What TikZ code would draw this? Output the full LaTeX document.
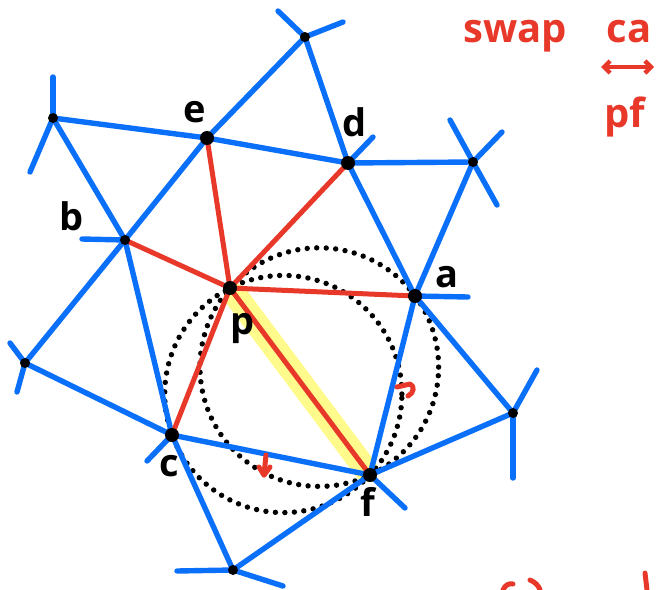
\documentclass[tikz,border=0pt]{standalone}
\usepackage{fontspec}
\setmainfont{Open Sans}
\usetikzlibrary{arrows.meta}
\definecolor{eblue}{RGB}{10,112,250}
\definecolor{ered}{RGB}{232,56,42}
\definecolor{ehl}{RGB}{255,250,140}
\tikzset{
  vtx/.style={circle,fill=black,inner sep=0pt,minimum size=14pt},
  vsm/.style={circle,fill=black,inner sep=0pt,minimum size=10pt},
  edge/.style={eblue,line width=5.4pt,line cap=round},
  flip/.style={ered,line width=5pt,line cap=round},
  dotcirc/.style={black,line width=5.4pt,line cap=round,dash pattern=on 0pt off 9.5pt},
  lbl/.style={font=\fontsize{38}{40}\selectfont\bfseries,anchor=base,inner sep=0pt},
  note/.style={font=\fontsize{40}{42}\selectfont\bfseries,anchor=base,inner sep=0pt,text=ered},
  redmark/.style={ered,line width=5pt,line cap=round,line join=round}
}
\begin{document}
\begin{tikzpicture}[x=1pt,y=-1pt]
\useasboundingbox (0,0) rectangle (669,589);
% vertices
\coordinate (p) at (230,288);
\coordinate (a) at (415,296);
\coordinate (b) at (125,240);
\coordinate (c) at (172,435);
\coordinate (d) at (348,163);
\coordinate (e) at (207,138);
\coordinate (f) at (370,475);
\coordinate (T) at (305,37);
\coordinate (L) at (53,118);
\coordinate (R) at (473,162);
\coordinate (RR) at (513,413);
\coordinate (LB) at (25,363);
\coordinate (B) at (233,570);
% stub ends
\coordinate (T1) at (278,11);
\coordinate (T2) at (343,22);
\coordinate (L1) at (53,77);
\coordinate (L2) at (30,172);
\coordinate (b1) at (82,239);
\coordinate (d1) at (373,137);
\coordinate (R1) at (450,120);
\coordinate (R2) at (502,132);
\coordinate (R3) at (497,205);
\coordinate (a1) at (468,297);
\coordinate (RR1) at (537,370);
\coordinate (RR2) at (513,478);
\coordinate (f1) at (405,508);
\coordinate (c1) at (147,461);
\coordinate (LB1) at (10,343);
\coordinate (LB2) at (17,392);
\coordinate (B1) at (177,571);
\coordinate (B2) at (283,586);
% circles centres
\coordinate (O1) at (319.3,367.1);
\coordinate (O2) at (283.3,394.0);
% highlight
\draw[ehl,line width=24pt,line cap=round,shorten <=10pt,shorten >=6pt] (p) -- (f);
% dotted circles
\draw[dotcirc] (O1) circle[radius=119.3pt];
\draw[dotcirc] (O2) circle[radius=118.6pt];
% blue edges
\draw[edge] (T) -- (e) -- (b) -- (LB);
\draw[edge] (L) -- (e) -- (d) -- (R);
\draw[edge] (T) -- (d) -- (a) -- (f) -- (c) -- (LB);
\draw[edge] (L) -- (b) -- (c) -- (B) -- (f) -- (RR) -- (a) -- (R);
% stubs
\draw[edge] (T) -- (T1); \draw[edge] (T) -- (T2);
\draw[edge] (L) -- (L1); \draw[edge] (L) -- (L2);
\draw[edge] (b) -- (b1);
\draw[edge] (d) -- (d1);
\draw[edge] (R) -- (R1); \draw[edge] (R) -- (R2); \draw[edge] (R) -- (R3);
\draw[edge] (a) -- (a1);
\draw[edge] (RR) -- (RR1); \draw[edge] (RR) -- (RR2);
\draw[edge] (f) -- (f1);
\draw[edge] (c) -- (c1);
\draw[edge] (LB) -- (LB1); \draw[edge] (LB) -- (LB2);
\draw[edge] (B) -- (B1); \draw[edge] (B) -- (B2);
% red edges
\foreach \v in {e,b,d,a,c,f} \draw[flip] (p) -- (\v);
% vertex dots
\foreach \v in {p,a,c,e,f,d} \node[vtx] (n\v) at (\v) {};
\foreach \v in {b,T,L,R,RR,LB,B} \node[vsm] (n\v) at (\v) {};
% labels
\node[lbl] (le) at (195,122) {e};
\node[lbl] (ld) at (355,136) {d};
\node[lbl] (lb) at (72,230) {b};
\node[lbl] (la) at (447,287) {a};
\node[lbl] (lp) at (243,334) {p};
\node[lbl] (lc) at (169,476) {c};
\node[lbl] (lf) at (368,516) {f};
% note
\node[note] (swap) at (515,42) {swap};
\node[note] (ca) at (629,42) {ca};
\node[note] (pf) at (625,127) {pf};
\coordinate (arL) at (601,67);
\coordinate (arR) at (654,67);
\draw[redmark,line width=4.4pt,{Straight Barb[length=6pt,width=12pt]}-{Straight Barb[length=6pt,width=12pt]}] (arL) -- (arR);
% small red marks
\draw[redmark] (397,387) -- (410,384) .. controls (415,386) and (414,393) .. (408,396);
\draw[redmark] (266,455) -- (264,475);
\draw[redmark] (259,467) -- (264,475) -- (270,467);
% cut-off fragments at bottom
\draw[redmark] (503,590) .. controls (505,585) and (509,583) .. (513,584);
\draw[redmark] (530,580) .. controls (535,582) and (539,586) .. (540,590);
\draw[redmark] (645,573) -- (647,590);
\end{tikzpicture}
\end{document}
